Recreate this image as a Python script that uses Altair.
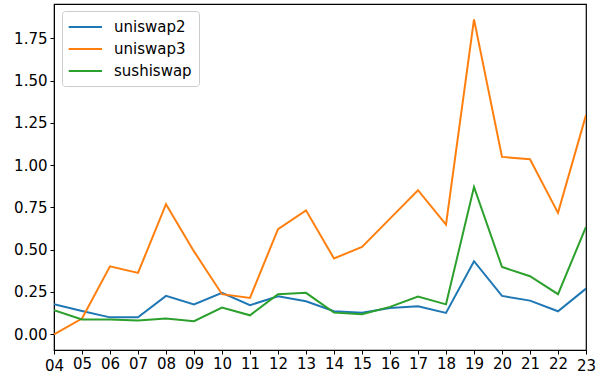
import altair as alt
import pandas as pd

days = list(range(4, 24))
uniswap2 = [0.178, 0.138, 0.100, 0.100, 0.227, 0.176, 0.245, 0.172, 0.225, 0.195,
            0.136, 0.128, 0.156, 0.165, 0.126, 0.432, 0.227, 0.199, 0.136, 0.270]
uniswap3 = [0.000, 0.093, 0.402, 0.363, 0.769, 0.490, 0.237, 0.215, 0.622, 0.733,
            0.448, 0.517, 0.684, 0.852, 0.649, 1.862, 1.049, 1.035, 0.718, 1.296]
sushiswap = [0.142, 0.087, 0.088, 0.081, 0.093, 0.077, 0.158, 0.112, 0.237, 0.245,
             0.128, 0.118, 0.162, 0.223, 0.177, 0.871, 0.398, 0.343, 0.237, 0.635]

series_names = ["uniswap2", "uniswap3", "sushiswap"]
series_colors = ["#1f77b4", "#ff7f0e", "#2ca02c"]
y_ticks = [0.0, 0.25, 0.5, 0.75, 1.0, 1.25, 1.5, 1.75]

rows = []
for name, vals in zip(series_names, [uniswap2, uniswap3, sushiswap]):
    for d, v in zip(days, vals):
        rows.append({"day": d, "value": v, "series": name})
df = pd.DataFrame(rows)

font = "DejaVu Sans"

chart = alt.Chart(df).mark_line(strokeWidth=2, clip=True).encode(
    x=alt.X("day:Q",
            scale=alt.Scale(domain=[4, 23], nice=False, zero=False),
            axis=alt.Axis(values=days, format="02d", title=None, grid=False,
                          domainColor="black", tickColor="black", tickSize=4,
                          labelFont=font, labelFontSize=15, labelColor="black",
                          labelPadding=alt.ExprRef("datum.value == 4 || datum.value == 23 ? 4 : 2"),
                          labelFlush=False, labelOverlap=False)),
    y=alt.Y("value:Q",
            scale=alt.Scale(domain=[-0.093, 1.953], nice=False, zero=False),
            axis=alt.Axis(values=y_ticks, format=".2f", title=None, grid=False,
                          domainColor="black", tickColor="black", tickSize=4,
                          labelFont=font, labelFontSize=15, labelColor="black",
                          labelPadding=3)),
    color=alt.Color("series:N",
                    scale=alt.Scale(domain=series_names, range=series_colors),
                    sort=series_names,
                    legend=alt.Legend(title=None, orient="none", legendX=8, legendY=7,
                                      symbolType="M-1.16,0H3", symbolSize=256,
                                      symbolStrokeWidth=2, labelFont=font,
                                      labelFontSize=15, labelColor="black",
                                      fillColor="white", strokeColor="#cccccc",
                                      cornerRadius=3, padding=7, rowPadding=5,
                                      labelOffset=27)),
).properties(
    width=532, height=346,
    padding={"left": 54, "top": 4, "right": 14, "bottom": 26},
    autosize=alt.AutoSizeParams(type="none"),
).configure_view(stroke="black", strokeWidth=1.2)

chart.save("out.html", embed_options={"renderer": "svg", "actions": False})
